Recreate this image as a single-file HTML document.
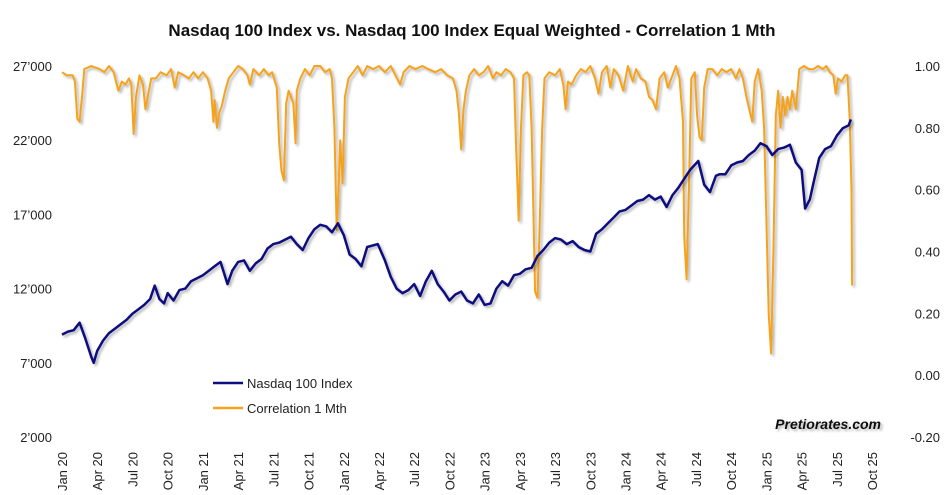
<!DOCTYPE html>
<html><head><meta charset="utf-8"><style>
html,body{margin:0;padding:0;background:#fff;}
svg{display:block;font-family:"Liberation Sans",sans-serif;}
</style></head><body>
<svg id="chart" width="945" height="495" viewBox="0 0 945 495">
<defs><filter id="sh" x="-5%" y="-5%" width="110%" height="110%"><feDropShadow dx="2" dy="2" stdDeviation="1.2" flood-color="#000" flood-opacity="0.3"/></filter></defs>
<text x="472" y="36" text-anchor="middle" font-size="17" font-weight="bold" fill="#111">Nasdaq 100 Index vs. Nasdaq 100 Index Equal Weighted - Correlation 1 Mth</text>
<g id="yl"></g>
<g id="yr"></g>
<g id="xa"></g>
<g id="series"></g>
<g>
<line x1="213" y1="383" x2="243" y2="383" stroke="#0d0d80" stroke-width="2.5"/>
<text x="247" y="388" font-size="13" fill="#222">Nasdaq 100 Index</text>
<line x1="213" y1="408" x2="243" y2="408" stroke="#f7a21b" stroke-width="2.5"/>
<text x="247" y="413" font-size="13" fill="#222">Correlation 1 Mth</text>
</g>
<text x="881" y="429" text-anchor="end" font-size="14" font-weight="bold" font-style="italic" fill="#111" filter="url(#sh)">Pretiorates.com</text>
</svg>
<script>
const xLabels=["Jan 20","Apr 20","Jul 20","Oct 20","Jan 21","Apr 21","Jul 21","Oct 21","Jan 22","Apr 22","Jul 22","Oct 22","Jan 23","Apr 23","Jul 23","Oct 23","Jan 24","Apr 24","Jul 24","Oct 24","Jan 25","Apr 25","Jul 25","Oct 25"];
const leftTicks=[27000,22000,17000,12000,7000,2000];
const leftTickLabels=["27’000","22’000","17’000","12’000","7’000","2’000"];
const rightTicks=[1.0,0.8,0.6,0.4,0.2,0.0,-0.2];
const rightTickLabels=["1.00","0.80","0.60","0.40","0.20","0.00","-0.20"];
const ndxMonths=[0,0.5,1,1.5,2,2.5,2.7,3,3.5,4,4.5,5,5.5,6,6.5,7,7.5,7.9,8.3,8.7,9,9.5,10,10.5,11,11.5,12,12.5,13,13.5,14.1,14.5,15,15.5,16,16.5,17,17.5,18,18.5,19,19.5,20,20.5,21,21.5,22,22.5,23,23.5,24,24.5,25,25.5,26,26.9,27.5,28,28.5,29,29.5,30,30.5,31,31.5,32,32.5,33,33.5,34,34.5,35,35.5,36,36.5,37,37.5,38,38.5,39,39.5,40,40.5,41,41.5,42,42.5,43,43.5,44,44.5,45,45.5,46,46.5,47,47.5,48,48.5,49,49.5,50,50.5,51,51.5,52,52.5,53,53.5,54.2,54.7,55.2,55.7,56,56.5,57,57.5,58,58.5,59,59.5,60,60.5,61,61.5,62,62.5,63,63.3,63.7,64,64.5,65,65.5,66,66.5,67,67.2];
const ndxValues=[8900,9100,9200,9700,8600,7400,7000,7800,8500,9000,9300,9600,9900,10300,10600,10900,11300,12200,11300,11000,11700,11200,11900,12000,12500,12700,12900,13200,13500,13800,12300,13200,13800,13900,13200,13700,14000,14700,15000,15100,15300,15500,15000,14600,15400,16000,16300,16200,15800,16400,15600,14300,14000,13500,14800,15000,13900,12800,12000,11700,11900,12300,11500,12500,13200,12300,11800,11200,11600,11800,11200,11000,11600,10900,11000,12000,12500,12200,12900,13000,13300,13400,14200,14600,15100,15400,15300,15000,15200,14800,14600,14500,15700,16000,16400,16800,17200,17300,17600,17900,18000,18300,18000,18200,17500,18300,18800,19400,20000,20600,19000,18500,19600,19700,19700,20300,20500,20600,21000,21300,21800,21600,21000,21400,21500,21700,20500,20000,17400,18000,19100,20800,21400,21600,22300,22800,23000,23400];
const corrMonths=[0,0.4,0.9,1.1,1.3,1.5,1.7,1.9,2.5,3.2,3.6,4.0,4.4,4.6,4.8,5.1,5.4,5.7,5.9,6.1,6.3,6.6,6.9,7.1,7.3,7.6,8.0,8.4,8.9,9.3,9.6,9.9,10.4,10.8,11.2,11.6,12.0,12.4,12.7,12.9,13.0,13.2,13.4,13.6,13.9,14.2,14.6,15.0,15.4,15.8,16.0,16.3,16.8,17.2,17.6,17.9,18.3,18.5,18.7,18.9,19.1,19.3,19.5,19.7,19.9,20.0,20.3,20.7,21.1,21.5,22.0,22.4,22.8,23.0,23.2,23.4,23.55,23.7,23.9,24.1,24.4,24.8,25.2,25.6,26.0,26.5,27.0,27.5,28.0,28.4,28.8,29.1,29.6,30.1,30.7,31.2,31.8,32.3,32.8,33.3,33.6,33.8,34.0,34.2,34.4,34.7,35.1,35.5,35.9,36.3,36.7,37.0,37.4,37.8,38.2,38.5,38.7,38.9,39.1,39.3,39.6,39.8,40.0,40.3,40.5,40.7,40.9,41.1,41.5,42.0,42.4,42.7,42.9,43.1,43.4,43.8,44.2,44.6,45.0,45.4,45.7,46.0,46.4,46.7,47.0,47.4,47.8,48.2,48.6,48.9,49.3,49.7,50.0,50.3,50.6,50.9,51.3,51.6,52.0,52.3,52.6,52.9,53.0,53.2,53.4,53.6,53.9,54.1,54.3,54.5,54.7,55.0,55.4,55.8,56.2,56.6,57.0,57.4,57.7,58.0,58.3,58.6,58.8,59.0,59.3,59.6,59.8,60.0,60.2,60.4,60.6,60.8,61.0,61.2,61.4,61.6,61.8,62.0,62.2,62.5,62.8,63.2,63.6,64.0,64.4,64.8,65.1,65.4,65.7,65.9,66.1,66.4,66.7,66.9,67.0,67.1,67.25,67.3];
const corrValues=[0.98,0.97,0.97,0.95,0.83,0.82,0.90,0.99,1.00,0.99,0.98,1.00,0.98,0.95,0.92,0.95,0.94,0.96,0.94,0.78,0.90,0.97,0.94,0.86,0.90,0.96,0.96,0.98,0.97,0.99,0.93,0.98,0.97,0.96,0.98,0.96,0.98,0.96,0.92,0.82,0.89,0.80,0.85,0.87,0.92,0.96,0.98,1.00,0.99,0.97,0.94,0.99,0.97,0.99,0.97,0.98,0.93,0.75,0.66,0.63,0.88,0.92,0.90,0.88,0.75,0.92,0.96,0.99,0.97,1.00,1.00,0.98,0.99,0.96,0.80,0.47,0.60,0.76,0.62,0.90,0.96,0.98,1.00,0.97,1.00,0.99,1.00,0.98,1.00,0.97,0.94,0.98,1.00,0.99,1.00,0.99,0.98,0.99,0.97,0.96,0.92,0.85,0.73,0.86,0.92,0.97,0.99,0.97,0.98,1.00,0.96,0.98,0.97,0.99,0.98,0.96,0.72,0.50,0.80,0.97,0.98,0.97,0.80,0.27,0.25,0.50,0.80,0.96,0.98,0.97,0.99,0.94,0.86,0.95,0.94,0.97,0.99,0.98,1.00,0.96,0.91,0.98,1.00,0.93,0.99,0.97,0.92,1.00,0.95,0.99,0.96,0.95,0.90,0.89,0.86,0.96,0.98,0.93,0.97,1.00,0.96,0.82,0.45,0.31,0.60,0.96,0.98,0.84,0.77,0.76,0.93,0.99,0.99,0.97,0.99,0.98,0.99,0.96,0.99,0.96,0.90,0.85,0.82,0.95,0.99,0.92,0.80,0.50,0.20,0.07,0.40,0.84,0.92,0.80,0.90,0.84,0.90,0.86,0.92,0.86,0.99,1.00,0.99,0.99,1.00,0.99,1.00,0.98,0.97,0.91,0.96,0.95,0.97,0.97,0.90,0.82,0.60,0.29];

const NS="http://www.w3.org/2000/svg";
const X0=62,MW=11.74,YT=66,YB=437;
const xS=m=>X0+m*MW;
const yL=v=>YT+(27000-v)/25000*(YB-YT);
const yR=v=>YT+(1-v)/1.2*(YB-YT);
function mk(t,a,p){const e=document.createElementNS(NS,t);for(const k in a)e.setAttribute(k,a[k]);p.appendChild(e);return e;}
const gl=document.getElementById('yl'),gr=document.getElementById('yr'),gx=document.getElementById('xa'),gs=document.getElementById('series');
leftTicks.forEach((v,i)=>{const t=mk('text',{x:52,y:yL(v)+5,'text-anchor':'end','font-size':13,fill:'#222'},gl);t.textContent=leftTickLabels[i];

});
rightTicks.forEach((v,i)=>{const t=mk('text',{x:940,y:yR(v)+5,'text-anchor':'end','font-size':13,fill:'#222'},gr);t.textContent=rightTickLabels[i];

});
xLabels.forEach((l,i)=>{const x=xS(i*3)+5;const t=mk('text',{x:0,y:0,'text-anchor':'end','font-size':13,fill:'#222',transform:`translate(${x},452) rotate(-90)`},gx);t.textContent=l;

});
const pN=ndxMonths.map((m,i)=>xS(m).toFixed(1)+','+yL(ndxValues[i]).toFixed(1)).join(' ');
const pC=corrMonths.map((m,i)=>xS(m).toFixed(1)+','+yR(corrValues[i]).toFixed(1)).join(' ');
const lc=mk('polyline',{points:pC,fill:'none',stroke:'#f7a21b','stroke-width':2,'stroke-linejoin':'round',filter:'url(#sh)'},gs);


const ln=mk('polyline',{points:pN,fill:'none',stroke:'#0d0d80','stroke-width':2.5,'stroke-linejoin':'round',filter:'url(#sh)'},gs);


</script>
</body></html>
